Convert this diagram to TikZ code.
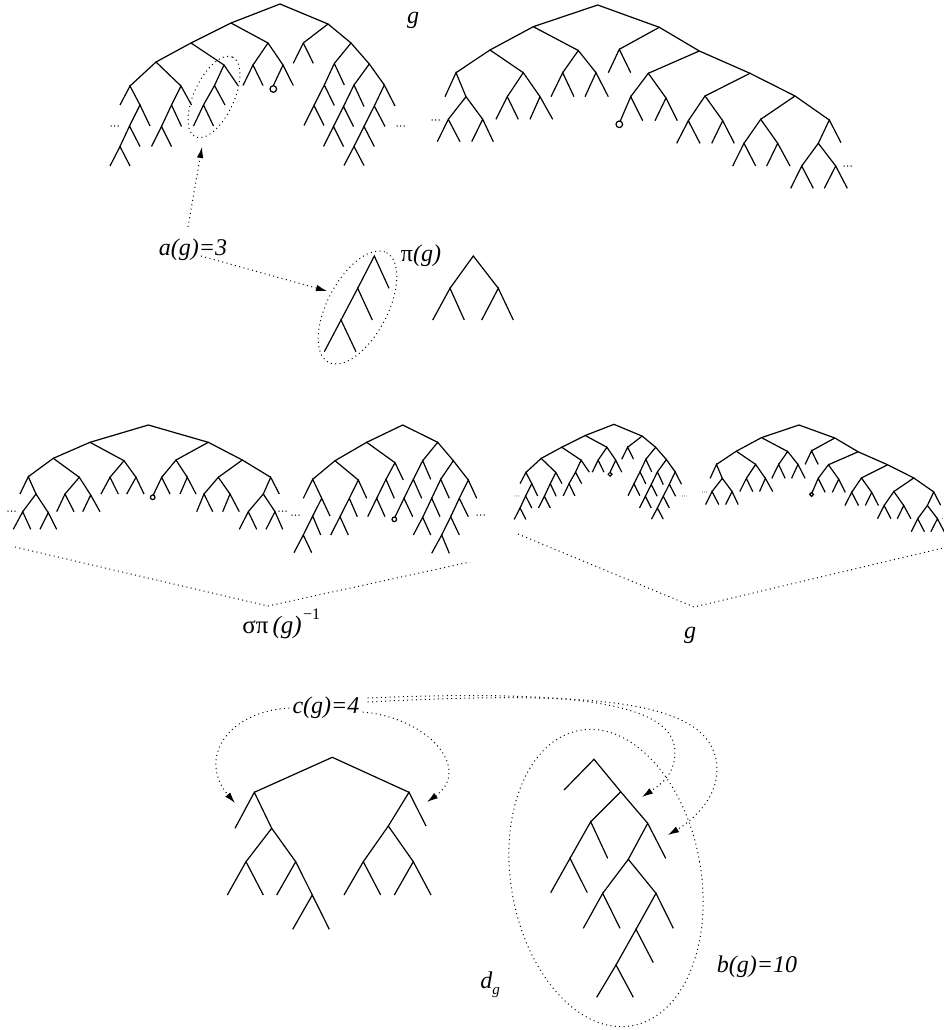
\documentclass[tikz,border=0pt]{standalone}
\usepackage{fontspec}
\setmainfont{Liberation Serif}
\usetikzlibrary{arrows.meta}
\newcommand{\Car}[6]{\draw[br] (#3,#4) -- (#1,#2) -- (#5,#6);}
\newcommand{\Dts}[2]{\fill (#1,#2) circle[radius=0.75] (#1+3.5,#2) circle[radius=0.75] (#1+7,#2) circle[radius=0.75];}
\newcommand{\TreeA}{%
\Car{280}{4}{231}{23}{328}{24}
\Car{231}{23}{191}{43}{268}{43}
\Car{191}{43}{156}{62}{224}{65}
\Car{156}{62}{130}{86}{181}{86}
\Car{130}{86}{120}{105}{140}{105}
\Car{140}{105}{129.5}{126}{150}{126}
\Car{129.5}{126}{120}{146.5}{140}{146.5}
\Car{120}{146.5}{110}{166}{130}{166}
\Car{181}{86}{171.5}{105}{191.5}{105}
\Car{171.5}{105}{161.5}{126.5}{181.5}{126.5}
\Car{161.5}{126.5}{151.5}{146.5}{171.5}{146.5}
\Car{224}{65}{214.5}{85.5}{238}{85.5}
\Car{214.5}{85.5}{203.5}{105}{225}{105}
\Car{203.5}{105}{193.5}{126}{213.5}{126}
\Car{268}{43}{253}{65}{283}{65}
\Car{253}{65}{243}{85.5}{263}{85.5}
\Car{283}{65}{273.3}{85.7}{293.3}{85.5}
\draw[br] (273.3,89) circle[radius=3.3];
\Car{328}{24}{303.3}{43}{351}{43}
\Car{303.3}{43}{293.3}{63.3}{313.3}{63.3}
\Car{351}{43}{334.3}{63.5}{369.3}{64}
\Car{334.3}{63.5}{324.3}{85}{344.3}{85}
\Car{324.3}{85}{314}{105.5}{334.3}{105.5}
\Car{314}{105.5}{304}{125.5}{324}{125.5}
\Car{369.3}{64}{354}{85}{384.3}{85}
\Car{354}{85}{343.5}{106.5}{364}{106.5}
\Car{343.5}{106.5}{333.5}{126.5}{353.5}{126.5}
\Car{333.5}{126.5}{323.5}{146.5}{343.5}{146.5}
\Car{384.3}{85}{374.3}{106}{395}{106}
\Car{374.3}{106}{364}{126.5}{385}{126.5}
\Car{364}{126.5}{354}{146.5}{374.3}{146.5}
\Car{354}{146.5}{344}{165.5}{364}{165.5}
\Dts{111}{126}
\Dts{397}{126}
}
\newcommand{\TreeB}{%
\Car{597.7}{5}{533.3}{26.7}{659.3}{27.3}
\Car{533.3}{26.7}{490}{50}{578.3}{50.5}
\Car{490}{50}{456}{72.7}{523.3}{72.7}
\Car{456}{72.7}{445}{96.7}{466}{96.7}
\Car{466}{96.7}{448.3}{119.3}{482.7}{119.3}
\Car{448.3}{119.3}{437.3}{141.7}{460}{141.7}
\Car{482.7}{119.3}{471.7}{141.7}{493.3}{141.7}
\Dts{432}{120}
\Car{523.3}{72.7}{507.3}{96.7}{540}{96.7}
\Car{507.3}{96.7}{496}{119.3}{518.3}{119.3}
\Car{540}{96.7}{530}{119.3}{552.7}{119.3}
\Car{578.3}{50.5}{562.7}{72.7}{596}{72.7}
\Car{562.7}{72.7}{551}{96.7}{574}{96.7}
\Car{596}{72.7}{585}{96.7}{608.3}{96.7}
\Car{659.3}{27.3}{619.3}{49.3}{699.3}{51}
\Car{619.3}{49.3}{608.3}{72.7}{630.7}{72.7}
\Car{699.3}{51}{648.3}{73.3}{750}{73.3}
\Car{648.3}{73.3}{630.7}{96.7}{666}{98}
\Car{630.7}{96.7}{620.3}{121}{642.7}{120.7}
\draw[br] (619.3,124.3) circle[radius=3.3];
\Car{666}{98}{655}{120.7}{677.3}{120.7}
\Car{750}{73.3}{705}{96}{795}{96}
\Car{705}{96}{688.3}{120.7}{722.7}{120.7}
\Car{688.3}{120.7}{676.7}{143.3}{700}{143.3}
\Car{722.7}{120.7}{711.7}{143.3}{734.3}{143.3}
\Car{795}{96}{760.7}{119.3}{829.3}{120}
\Car{760.7}{119.3}{744}{143.3}{777.7}{143.3}
\Car{744}{143.3}{732.7}{166}{755.7}{166}
\Car{777.7}{143.3}{766.7}{166}{790}{166}
\Car{829.3}{120}{818.3}{143.3}{841}{142.7}
\Car{818.3}{143.3}{801.7}{166}{835.7}{166}
\Car{801.7}{166}{790.7}{188.3}{813.3}{188.3}
\Car{835.7}{166}{824.3}{188.3}{847.3}{188.3}
\Dts{844}{166}
}
\begin{document}
\begin{tikzpicture}[x=1pt,y=-1pt,
  br/.style={line width=1.2pt},
  dts/.style={line width=1pt, dash pattern=on 1pt off 3.4pt},
  arr/.style={dts, -{Latex[length=11pt,width=6.5pt]}},
  lab/.style={font=\fontsize{24}{28}\selectfont\itshape, inner sep=0pt}]
\useasboundingbox (0,0) rectangle (943,1030);

% ---------- top: g ----------
\TreeA
\TreeB
\node[lab] (gtop) at (413,20) {g};
\draw[dts, rotate around={65:(214,97)}] (214,97) ellipse [x radius=44, y radius=20];
\coordinate (tipA) at (202,147);

% ---------- pi(g) ----------
\Car{374.3}{256}{357.7}{288.3}{389}{288.3}
\Car{357.7}{288.3}{341}{320}{372.3}{320}
\Car{341}{320}{324.3}{351.7}{356}{351.7}
\Car{473.3}{256}{450}{288.3}{498.3}{288.3}
\Car{450}{288.3}{432.7}{320}{464.3}{320}
\Car{498.3}{288.3}{481.7}{320}{513.3}{320}
\draw[dts, rotate around={62:(357.5,307.5)}] (357.5,307.5) ellipse [x radius=62, y radius=30];
\coordinate (tipP) at (327,291);
\node[lab] (ag) at (193,250) {a(g)=3};
\node[lab] (pig) at (421,256) {\upshape π\itshape(g)};
\draw[arr] ([xshift=-5pt,yshift=12pt]ag.north) -- (tipA);
\draw[arr] ([xshift=8pt,yshift=-6pt]ag.center) -- (tipP);

% ---------- middle left: sigma pi(g)^-1 ----------
\Car{148.3}{425}{90}{442.3}{208.3}{442.3}
\Car{90}{442.3}{53.3}{458.3}{124}{460.7}
\Car{53.3}{458.3}{28.3}{476.7}{79.3}{477.3}
\Car{28.3}{476.7}{20}{494}{36}{494}
\Car{36}{494}{22.7}{511.7}{48.3}{512.7}
\Car{22.7}{511.7}{13.3}{529.3}{30.7}{529.3}
\Car{48.3}{512.7}{40}{529.3}{56.7}{529.3}
\Dts{8}{511}
\Car{79.3}{477.3}{65}{494}{90.7}{495}
\Car{65}{494}{56.7}{511.7}{74}{511.7}
\Car{90.7}{495}{82.7}{511.7}{100}{511.7}
\Car{124}{460.7}{110}{477.3}{136}{477.3}
\Car{110}{477.3}{101}{494}{118.3}{494}
\Car{136}{477.3}{126.7}{494}{144}{494}
\Car{208.3}{442.3}{176}{460}{242.3}{460}
\Car{176}{460}{161.7}{477.3}{187.3}{477.3}
\Car{161.7}{477.3}{153.3}{495}{170}{494}
\draw[br] (152.7,497.3) circle[radius=2.3];
\Car{187.3}{477.3}{180}{494}{196}{494}
\Car{242.3}{460}{218.3}{477.3}{270.7}{477.3}
\Car{218.3}{477.3}{204}{494}{230}{494}
\Car{204}{494}{196.7}{511.7}{212.7}{511.7}
\Car{230}{494}{222.7}{511.7}{239.3}{511.7}
\Car{270.7}{477.3}{263.3}{494}{279.3}{494}
\Car{263.3}{494}{248.3}{511.7}{275}{511.7}
\Car{248.3}{511.7}{239.3}{529.3}{256.7}{529.3}
\Car{275}{511.7}{266}{529.3}{282.7}{529.3}
\Dts{279}{511}
\Car{402.7}{425}{366.7}{442.3}{437.7}{442.3}
\Car{366.7}{442.3}{335}{460.7}{395}{462.7}
\Car{335}{460.7}{312.7}{479.3}{358.3}{480}
\Car{312.7}{479.3}{303.3}{498.3}{321.7}{498.3}
\Car{321.7}{498.3}{312.7}{516}{330}{516}
\Car{312.7}{516}{303.3}{535}{320.7}{535}
\Car{303.3}{535}{294}{552.7}{311.7}{552.7}
\Car{358.3}{480}{349.3}{498.3}{366.7}{498.3}
\Car{349.3}{498.3}{340}{516.7}{357.3}{516.7}
\Car{340}{516.7}{330.7}{535}{348.3}{535}
\Car{395}{462.7}{386}{479.3}{403.3}{480}
\Car{386}{479.3}{376.7}{498.3}{394.3}{498.3}
\Car{376.7}{498.3}{367.7}{516.7}{385}{516.7}
\Car{437.7}{442.3}{422.7}{460.7}{453.3}{460.7}
\Car{422.7}{460.7}{413.3}{479.3}{430.7}{479.3}
\Car{413.3}{479.3}{404}{498.3}{421.7}{498.3}
\Car{404}{498.3}{395}{517}{412.7}{516.7}
\draw[br] (394.3,519.3) circle[radius=2.3];
\Car{453.3}{460.7}{440.7}{479.3}{468.3}{480}
\Car{440.7}{479.3}{431.7}{498.3}{449.3}{498.3}
\Car{431.7}{498.3}{422.7}{517.3}{440}{516.7}
\Car{422.7}{517.3}{413.3}{535}{430.7}{535}
\Car{468.3}{480}{459.3}{498.3}{476.7}{498.3}
\Car{459.3}{498.3}{450.7}{516.7}{468.3}{516.7}
\Car{450.7}{516.7}{441.7}{535}{459.3}{535}
\Car{441.7}{535}{431.7}{553.3}{449.3}{553.3}
\Dts{292}{515}
\Dts{477}{515}
\coordinate (vl1) at (15,547);
\coordinate (vl2) at (268,606);
\coordinate (vl3) at (470,562);
\draw[dts] (vl1) -- (vl2) -- (vl3);
\node[lab, font=\fontsize{25}{28}\selectfont] (sig) at (272,627) {σπ\,\itshape(g)};
\node[lab, font=\fontsize{16}{18}\selectfont\upshape, anchor=south west] (sup) at ([xshift=1pt,yshift=-4pt]sig.north east) {−1};

% ---------- middle right: g (scaled copies) ----------
\begin{scope}[shift={(449.6,422)}, scale=0.587]
\TreeA
\end{scope}
\begin{scope}[shift={(451.1,422.1)}, scale=0.582]
\TreeB
\end{scope}
\coordinate (vr1) at (518,534);
\coordinate (vr2) at (694,607);
\coordinate (vr3) at (943,548);
\draw[dts] (vr1) -- (vr2) -- (vr3);
\node[lab] (gmid) at (690,635) {g};

% ---------- bottom ----------
\Car{332.3}{757.3}{254.3}{792.3}{409}{792.3}
\Car{254.3}{792.3}{235}{828.3}{271.7}{828.3}
\Car{271.7}{828.3}{246}{861.7}{295.7}{861.7}
\Car{246}{861.7}{227.3}{895}{263.3}{895}
\Car{295.7}{861.7}{276.7}{895}{312.3}{895}
\Car{312.3}{895}{292.7}{929.3}{329.3}{929.3}
\Car{409}{792.3}{388.3}{826}{426}{826}
\Car{388.3}{826}{363.3}{861.7}{413.3}{861.7}
\Car{363.3}{861.7}{344}{895}{380.7}{895}
\Car{413.3}{861.7}{394.3}{895}{431}{895}

\Car{594}{759.3}{564}{790}{620.7}{791.7}
\Car{620.7}{791.7}{590.7}{821.7}{647.7}{823.3}
\Car{590.7}{821.7}{570}{858.3}{607.7}{858.3}
\Car{570}{858.3}{550.7}{892.7}{587.3}{892.7}
\Car{647.7}{823.3}{628.3}{859.3}{665.7}{858.3}
\Car{628.3}{859.3}{602.7}{893.3}{656}{893.3}
\Car{602.7}{893.3}{583.3}{928.3}{620}{928.3}
\Car{656}{893.3}{636}{929.3}{673.3}{928.3}
\Car{636}{929.3}{616}{965}{653.3}{962.7}
\Car{616}{965}{596.7}{997.3}{633.3}{997.3}
\draw[dts, rotate around={10:(606,878)}] (606,878) ellipse [x radius=95, y radius=150];

\node[lab] (cg) at (326,708) {c(g)=4};
\node[lab] (bg) at (757,967) {b(g)=10};
\node[lab] (dg) at (490,985) {d\raisebox{-6pt}{\fontsize{15}{15}\selectfont g}};
\coordinate (tG1) at (235,803);
\coordinate (tG2) at (427,802);
\coordinate (tH1) at (642,797);
\coordinate (tH2) at (668,835);
\draw[arr] ([xshift=-3pt]cg.west) .. controls (225,712) and (198,760) .. (tG1);
\draw[arr] ([xshift=3pt,yshift=-4pt]cg.east) .. controls (430,718) and (472,770) .. (tG2);
\draw[arr] ([xshift=8pt,yshift=10pt]cg.east) .. controls (560,690) and (675,700) .. (675,752) .. controls (675,775) and (660,785) .. (tH1);
\draw[arr] ([xshift=8pt,yshift=6pt]cg.east) .. controls (600,690) and (717,700) .. (717,770) .. controls (717,800) and (690,822) .. (tH2);
\end{tikzpicture}
\end{document}
